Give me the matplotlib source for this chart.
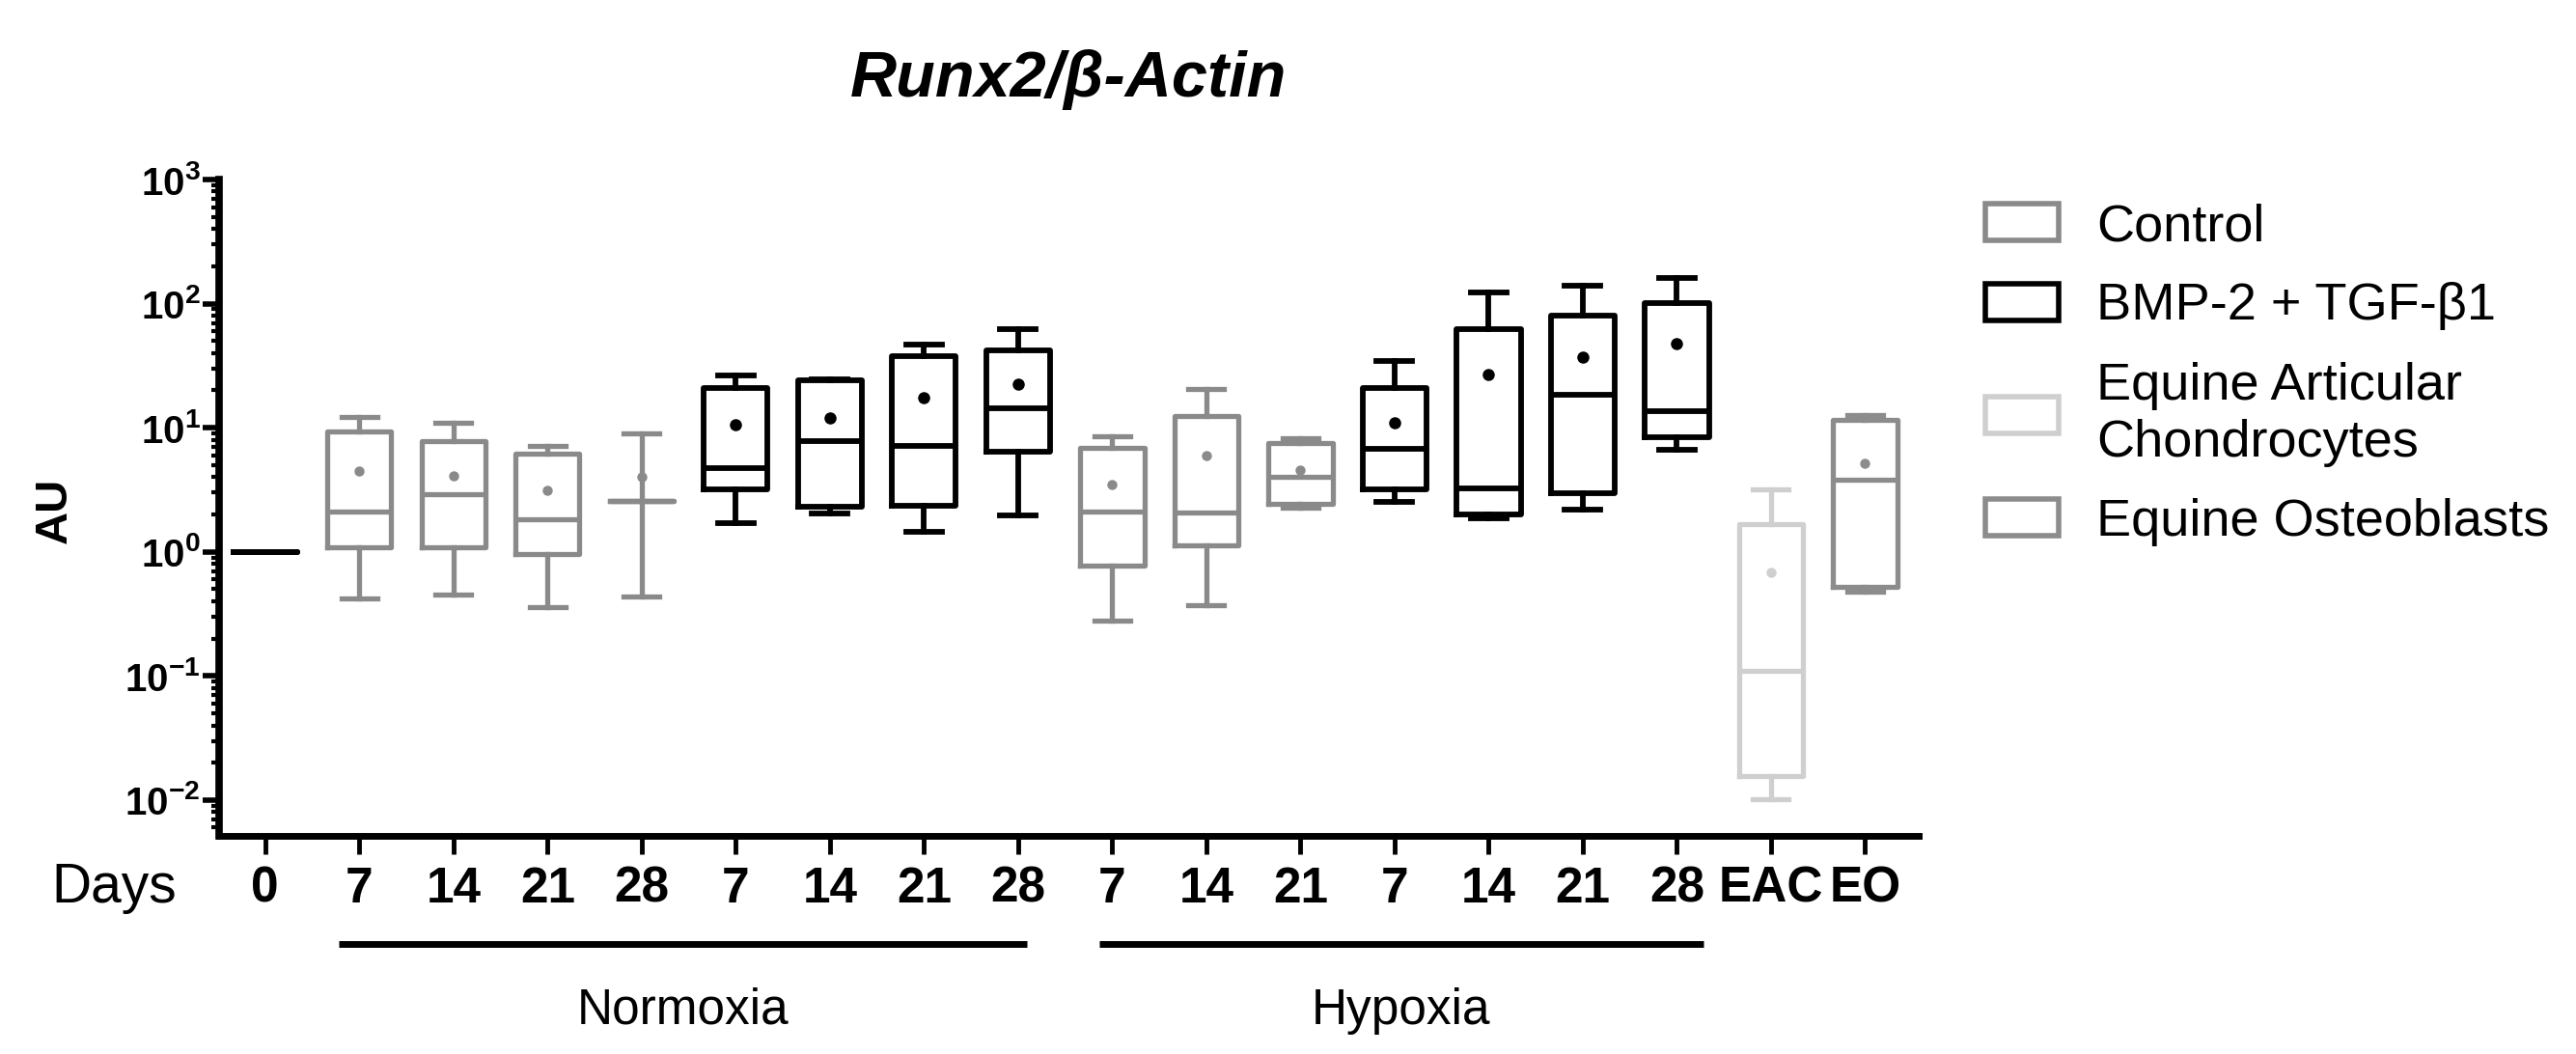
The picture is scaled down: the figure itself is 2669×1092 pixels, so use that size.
import numpy as np
import matplotlib
matplotlib.use("Agg")
import matplotlib.pyplot as plt
from matplotlib.patches import Patch
from matplotlib.ticker import FixedLocator, LogLocator, FuncFormatter, NullFormatter
from matplotlib.transforms import blended_transform_factory

plt.rcParams['font.family'] = ['Liberation Sans', 'DejaVu Sans']
plt.rcParams['mathtext.fontset'] = 'custom'
plt.rcParams['mathtext.rm'] = 'Liberation Sans'
plt.rcParams['mathtext.bf'] = 'Liberation Sans:bold'

# ---- datos ----
tick_labels = ['0', '7', '14', '21', '28', '7', '14', '21', '28',
               '7', '14', '21', '7', '14', '21', '28', 'EAC', 'EO']
grupo = ['base', 'ctrl', 'ctrl', 'ctrl', 'ctrl', 'bmp', 'bmp', 'bmp', 'bmp',
         'ctrl', 'ctrl', 'ctrl', 'bmp', 'bmp', 'bmp', 'bmp', 'eac', 'eo']

whis_lo = [1.0, 0.42, 0.45, 0.36, 0.44, 1.71, 2.03, 1.46, 1.95,
           0.28, 0.37, 2.28, 2.52, 1.85, 2.18, 6.67, 0.0102, 0.48]
q1 = [1.0, 1.09, 1.09, 0.96, 2.56, 3.2, 2.32, 2.36, 6.46,
      0.77, 1.13, 2.45, 3.2, 2.01, 2.95, 8.35, 0.0157, 0.52]
mediana = [1.0, 2.11, 2.9, 1.82, 2.56, 4.77, 7.8, 7.1, 14.4,
           2.11, 2.06, 4.06, 6.73, 3.27, 18.6, 13.5, 0.111, 3.81]
q3 = [1.0, 9.4, 7.8, 6.2, 2.56, 21.0, 24.0, 37.6, 42.4,
      6.95, 12.4, 7.5, 21.0, 62.7, 80.4, 101.0, 1.66, 11.5]
whis_hi = [1.0, 12.3, 10.9, 7.2, 9.0, 26.6, 24.6, 46.6, 62.7,
           8.5, 20.4, 8.2, 34.4, 122.0, 139.6, 161.0, 3.2, 12.6]
media = [1.0, 4.5, 4.1, 3.15, 4.0, 10.5, 11.9, 17.4, 22.5,
         3.46, 5.97, 4.58, 10.96, 26.7, 37.3, 47.3, 0.69, 5.16]

leyenda = ['Control', 'BMP-2 + TGF-β1', 'Equine Articular\nChondrocytes', 'Equine Osteoblasts']

colores = {'base': 'black', 'ctrl': '#8a8a8a', 'bmp': 'black', 'eac': '#cfcfcf', 'eo': '#8c8c8c'}

fig = plt.figure(figsize=(26.69, 10.92), dpi=100)
ax = fig.add_axes([227/2669, 1 - 866/1092, (1988-227)/2669, (866-186)/1092])

pos = np.arange(len(tick_labels))
for i in pos:
    c = colores[grupo[i]]
    st = [dict(whislo=whis_lo[i], q1=q1[i], med=mediana[i], q3=q3[i],
               whishi=whis_hi[i], mean=media[i])]
    lw = 4.2 if grupo[i] in ('bmp', 'base') else 3.8
    ax.bxp(st, positions=[i], widths=0.68, capwidths=0.38,
           showmeans=(grupo[i] != 'base'), showcaps=(grupo[i] != 'base'),
           showfliers=False,
           boxprops=dict(color=c, linewidth=lw),
           medianprops=dict(color=c, linewidth=lw),
           whiskerprops=dict(color=c, linewidth=lw),
           capprops=dict(color=c, linewidth=lw),
           meanprops=dict(marker='o', markerfacecolor=c, markeredgecolor=c,
                          markersize=8 if grupo[i] == 'bmp' else 6.5))

ax.set_yscale('log')
ax.set_ylim(10**-2.288, 1000)
ax.set_xlim(-0.49, 17.57)

ax.yaxis.set_major_locator(FixedLocator([1e-2, 1e-1, 1e0, 1e1, 1e2, 1e3]))
ax.yaxis.set_major_formatter(FuncFormatter(lambda v, p: r'$\mathbf{10^{%d}}$' % round(np.log10(v))))
ax.yaxis.set_minor_locator(LogLocator(base=10, subs=np.arange(2, 10), numticks=20))
ax.yaxis.set_minor_formatter(NullFormatter())

ax.set_xticks(pos)
ax.set_xticklabels(tick_labels, fontweight='bold', fontsize=37)

for s in ['top', 'right']:
    ax.spines[s].set_visible(False)
ax.spines['left'].set_linewidth(5.5)
ax.spines['bottom'].set_linewidth(5)

ax.tick_params(axis='y', which='major', length=12, width=4, labelsize=29, pad=2)
ax.tick_params(axis='y', which='minor', length=6, width=3)
ax.tick_params(axis='x', which='major', length=14, width=3.5, pad=8)

fig.text(1107/2669, 1 - 83/1092, 'Runx2/β-Actin', fontsize=48, fontweight='bold',
         fontstyle='italic', ha='center', va='center')
fig.text(57/2669, 1 - 529/1092, 'AU', fontsize=34, fontweight='bold',
         rotation=90, ha='center', va='center')
fig.text(118/2669, 1 - 920/1092, 'Days', fontsize=41, ha='center', va='center')

# barras de Normoxia / Hypoxia
tr = blended_transform_factory(ax.transData, fig.transFigure)
y_barra = 1 - 978/1092
y_texto = 1 - 1047/1092
for x0, x1, nombre in [(0.78, 8.09, 'Normoxia'), (8.86, 15.28, 'Hypoxia')]:
    ax.plot([x0, x1], [y_barra, y_barra], color='black', linewidth=5,
            transform=tr, clip_on=False, solid_capstyle='butt')
    ax.text((x0 + x1) / 2, y_texto, nombre, transform=tr, fontsize=37,
            ha='center', va='center')

handles = [Patch(facecolor='white', edgecolor=colores['ctrl'], linewidth=4),
           Patch(facecolor='white', edgecolor='black', linewidth=4),
           Patch(facecolor='white', edgecolor=colores['eac'], linewidth=4),
           Patch(facecolor='white', edgecolor=colores['eo'], linewidth=4)]
leg = fig.legend(handles, leyenda, loc='upper left', bbox_to_anchor=(2057/2669, 1 - 210/1092),
                 frameon=False, fontsize=39, handlelength=1.4, handleheight=0.7,
                 handletextpad=0.72, labelspacing=0.6, borderpad=0, borderaxespad=0)
for t in leg.get_texts():
    t.set_linespacing(1.22)

fig.savefig('out.png', dpi=100)
